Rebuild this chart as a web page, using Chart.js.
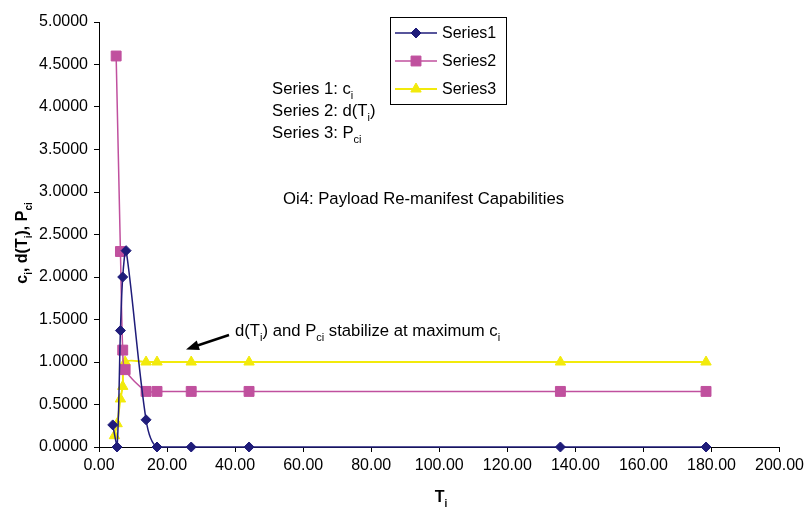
<!DOCTYPE html>
<html>
<head>
<meta charset="utf-8">
<script src="https://cdn.jsdelivr.net/npm/chart.js@4.4.0/dist/chart.umd.min.js"></script>
<style>
  html, body { margin: 0; background: #fff; }
  #wrap { width: 808px; height: 511px; position: relative; }
</style>
</head>
<body>
<div id="wrap"><canvas id="chartCi"></canvas></div>
<script>
const FONT = "Arial, 'Liberation Sans', sans-serif";

// series 1: c_i
const tSeries1 = [4.04, 5.3, 6.3, 6.97, 7.97, 13.83, 17.05, 27.1, 44.1, 135.6, 178.4];
const ci = [0.26, 0.0, 1.37, 2.0, 2.31, 0.32, 0.0, 0.0, 0.0, 0.0, 0.0];
// series 2: d(T_i)
const tSeries2 = [5.04, 6.3, 6.97, 7.68, 13.83, 17.05, 27.1, 44.1, 135.6, 178.4];
const dTi = [4.6, 2.3, 1.14, 0.91, 0.654, 0.654, 0.654, 0.654, 0.654, 0.654];
// series 3: P_ci
const tSeries3 = [4.54, 5.33, 6.3, 6.97, 7.68, 13.83, 17.05, 27.1, 44.1, 135.6, 178.4];
const pci = [0.133, 0.274, 0.565, 0.713, 1.0, 1.0, 1.0, 1.0, 1.0, 1.0, 1.0];

const seriesNames = ["Series1", "Series2", "Series3"];
const colors = ["#1f1c7a", "#c0509e", "#f2ea0c"];

const toXY = (xs, ys) => xs.map((x, i) => ({ x, y: ys[i] }));

// text with subscript runs: parts = [[text, isSub], ...]
function richWidth(ctx, parts, size, bold) {
  let w = 0;
  for (const [txt, sub] of parts) {
    ctx.font = `${bold ? "bold " : ""}${sub ? Math.round(size * 0.65) : size}px ${FONT}`;
    w += ctx.measureText(txt).width;
  }
  return w;
}
function richText(ctx, x, y, parts, size, bold) {
  let cx = x;
  for (const [txt, sub] of parts) {
    ctx.font = `${bold ? "bold " : ""}${sub ? Math.round(size * 0.65) : size}px ${FONT}`;
    ctx.fillText(txt, cx, sub ? y + size * 0.3 : y);
    cx += ctx.measureText(txt).width;
  }
}

const notes = {
  id: "notes",
  afterDraw(chart) {
    const ctx = chart.ctx;
    const fs = 16.7;
    ctx.save();
    ctx.fillStyle = "#000";
    ctx.textBaseline = "alphabetic";
    ctx.textAlign = "left";

    richText(ctx, 272, 94, [["Series 1: c", 0], ["i", 1]], fs);
    richText(ctx, 272, 116, [["Series 2: d(T", 0], ["i", 1], [")", 0]], fs);
    richText(ctx, 272, 138, [["Series 3: P", 0], ["ci", 1]], fs);
    richText(ctx, 283, 204, [["Oi4: Payload Re-manifest Capabilities", 0]], fs);
    richText(ctx, 235, 336, [["d(T", 0], ["i", 1], [") and P", 0], ["ci", 1], [" stabilize at maximum c", 0], ["i", 1]], fs);

    // arrow pointing at the flat part of the curves
    ctx.strokeStyle = "#000";
    ctx.lineWidth = 2.5;
    ctx.beginPath();
    ctx.moveTo(229, 335);
    ctx.lineTo(196, 346);
    ctx.stroke();
    const ang = Math.atan2(349.5 - 335, 186 - 229);
    ctx.beginPath();
    ctx.moveTo(186, 349.5);
    ctx.lineTo(186 - 13 * Math.cos(ang) + 5 * Math.sin(ang), 349.5 - 13 * Math.sin(ang) - 5 * Math.cos(ang));
    ctx.lineTo(186 - 13 * Math.cos(ang) - 5 * Math.sin(ang), 349.5 - 13 * Math.sin(ang) + 5 * Math.cos(ang));
    ctx.closePath();
    ctx.fill();

    // axis titles
    const xt = [["T", 0], ["i", 1]];
    richText(ctx, 441 - richWidth(ctx, xt, 16, true) / 2, 502, xt, 16, true);
    const yt = [["c", 0], ["i", 1], [", d(T", 0], ["i", 1], ["), P", 0], ["ci", 1]];
    ctx.translate(27, 243);
    ctx.rotate(-Math.PI / 2);
    richText(ctx, -richWidth(ctx, yt, 16, true) / 2, 0, yt, 16, true);
    ctx.setTransform(1, 0, 0, 1, 0, 0);

    // legend box
    ctx.lineWidth = 1;
    ctx.strokeStyle = "#000";
    ctx.strokeRect(390.5, 17.5, 116, 87);
    const rowsY = [33, 61, 89];
    chart.data.datasets.forEach((ds, i) => {
      const y = rowsY[i];
      ctx.strokeStyle = ds.borderColor;
      ctx.lineWidth = ds.borderWidth;
      ctx.beginPath();
      ctx.moveTo(395, y);
      ctx.lineTo(437, y);
      ctx.stroke();
      ctx.fillStyle = ds.pointBackgroundColor;
      ctx.strokeStyle = ds.pointBorderColor;
      ctx.lineWidth = 1;
      Chart.helpers.drawPoint(ctx, { pointStyle: ds.pointStyle, radius: ds.pointRadius, borderWidth: 1 }, 416, y);
      ctx.fillStyle = "#000";
      ctx.font = `16px ${FONT}`;
      ctx.textBaseline = "middle";
      ctx.fillText(ds.label, 442, y + 1);
    });
    ctx.restore();
  }
};

const series = [
  { data: toXY(tSeries1, ci), style: "rectRot", r: 5, w: 1.5 },
  { data: toXY(tSeries2, dTi), style: "rect", r: 7, w: 1.5 },
  { data: toXY(tSeries3, pci), style: "triangle", r: 6, w: 2 }
];

new Chart(document.getElementById("chartCi").getContext("2d"), {
  type: "scatter",
  data: {
    datasets: series.map((s, i) => ({
      label: seriesNames[i],
      data: s.data,
      showLine: true,
      tension: 0.3,
      borderColor: colors[i],
      borderWidth: s.w,
      pointStyle: s.style,
      pointRadius: s.r,
      pointHoverRadius: s.r,
      pointBackgroundColor: colors[i],
      pointBorderColor: colors[i],
      pointBorderWidth: 1,
      clip: false
    }))
  },
  options: {
    responsive: true,
    maintainAspectRatio: false,
    animation: false,
    layout: { padding: { left: 0, right: 26, top: 22, bottom: 0 } },
    plugins: { legend: { display: false }, tooltip: { enabled: false } },
    scales: {
      x: {
        type: "linear", min: 0, max: 200,
        ticks: { stepSize: 20, autoSkip: false, maxRotation: 0, padding: 4, color: "#000",
          font: { family: FONT, size: 16 }, callback: (v) => v.toFixed(2) },
        grid: { drawOnChartArea: false, tickLength: 5, color: "#000" },
        border: { color: "#000", width: 1 },
        afterFit(s) { s.height = 64; }
      },
      y: {
        type: "linear", min: 0, max: 5,
        ticks: { stepSize: 0.5, padding: 6, color: "#000",
          font: { family: FONT, size: 16 }, callback: (v) => v.toFixed(4) },
        grid: { drawOnChartArea: false, tickLength: 5, color: "#000" },
        border: { color: "#000", width: 1 },
        afterFit(s) { s.width = 99; }
      }
    }
  },
  plugins: [notes]
});
</script>
</body>
</html>
